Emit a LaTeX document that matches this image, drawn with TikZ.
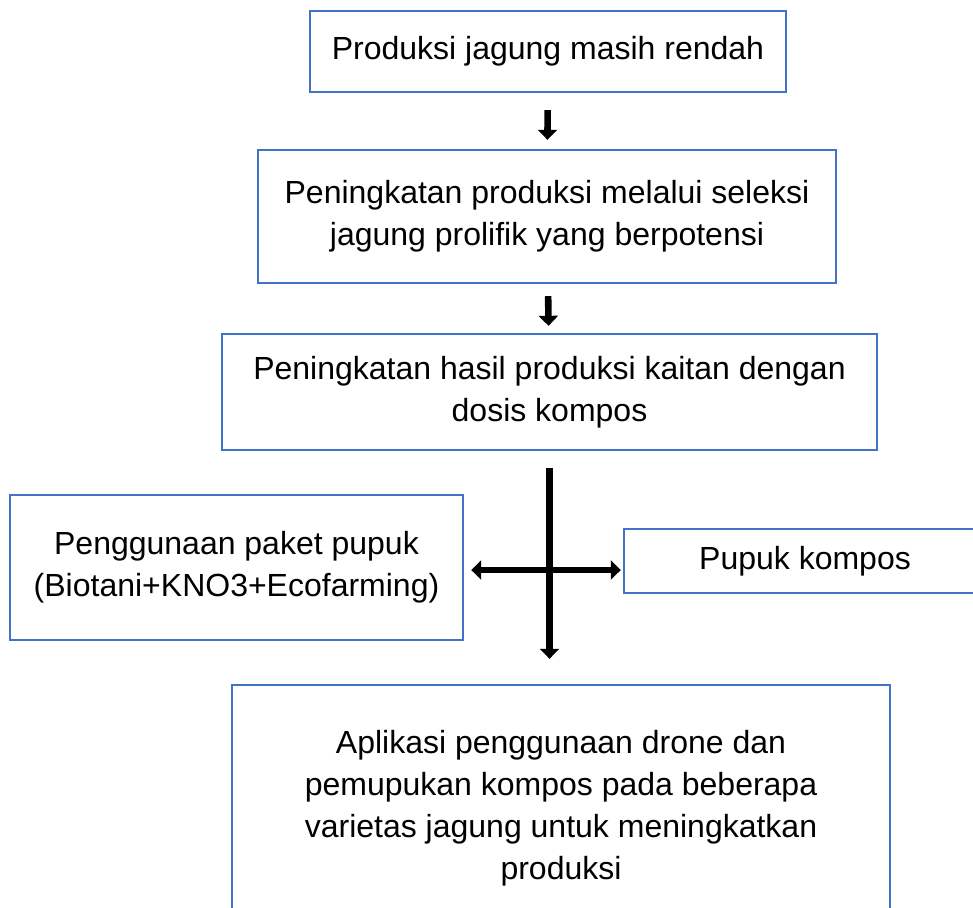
\documentclass[tikz,border=0pt]{standalone}
\usepackage{fontspec}
\setmainfont{Liberation Sans}
\usetikzlibrary{arrows.meta}
\definecolor{boxblue}{HTML}{4472C4}
\begin{document}
\begin{tikzpicture}[
        x=0.5pt, y=-0.5pt,
        kotak/.style={rectangle, draw=boxblue, line width=1.2pt, align=center, inner sep=0pt, font=\fontsize{16}{21}\selectfont},
        ujung/.tip={Triangle[width=9.5pt, length=5pt]},
        panah/.style={-ujung, line width=3.3pt},
        panahdua/.style={ujung-ujung, line width=3.3pt}
    ]
    \clip (0,0) rectangle (973,907);
    \node[kotak, minimum width=238pt, minimum height=40.5pt] (masalah) at (548,51.5) {Produksi jagung masih rendah};
    \node[kotak, minimum width=289pt, minimum height=66.5pt] (seleksi) at (547,216.5) {Peningkatan produksi melalui seleksi\\jagung prolifik yang berpotensi};
    \node[kotak, minimum width=327.5pt, minimum height=58pt] (dosis) at (549.5,392) {Peningkatan hasil produksi kaitan dengan\\dosis kompos};
    \node[kotak, minimum width=226.5pt, minimum height=72.5pt] (paket) at (236.5,567.5) {Penggunaan paket pupuk\\(Biotani+KNO3+Ecofarming)};
    \node[kotak, minimum width=181pt, minimum height=32pt] (pupuk) at (805,561) {Pupuk kompos};
    \node[kotak, minimum width=329pt, minimum height=123pt] (aplikasi) at (561,808) {Aplikasi penggunaan drone dan\\pemupukan kompos pada beberapa\\varietas jagung untuk meningkatkan\\produksi};
    \coordinate (silang) at (548,570);
    % panah antar kotak
    \draw[panah, shorten <=8.5pt, shorten >=4.5pt] (masalah) -- (seleksi);
    \draw[panah, shorten <=6pt, shorten >=3.5pt] (seleksi) -- (dosis);
    \draw[panah, shorten <=8.5pt, shorten >=12.5pt] (dosis.south) -- (dosis.south |- aplikasi.north);
    \draw[panahdua, shorten <=3.5pt, shorten >=1pt] (paket.east |- silang) -- (pupuk.west |- silang);
\end{tikzpicture}
\end{document}
